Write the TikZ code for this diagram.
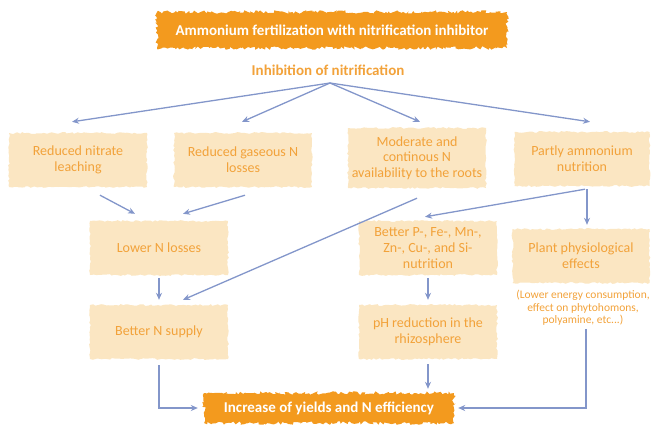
\documentclass[tikz,border=0pt]{standalone}
\usepackage{fontspec}
\setmainfont{Carlito}
\usetikzlibrary{decorations.pathmorphing,arrows.meta}

\definecolor{boxfill}{HTML}{FBE6C2}
\definecolor{txtorange}{HTML}{F2A23A}
\definecolor{bannerorange}{HTML}{F39A1E}
\definecolor{arrowblue}{HTML}{8396CA}

\tikzset{
  fuzzybox/.style={fill=boxfill, text=txtorange, align=center, inner sep=0pt,
    minimum width=138, minimum height=54, font=\fontsize{14}{16}\selectfont,
    decorate, decoration={random steps, segment length=2.5pt, amplitude=0.9pt}},
  banner/.style={fill=bannerorange, text=white, inner sep=0pt,
    font=\bfseries\fontsize{15}{17}\selectfont,
    decorate, decoration={random steps, segment length=2pt, amplitude=1.8pt}},
  link/.style={->, >={Stealth[length=7pt,width=6pt]}, color=arrowblue, line width=1.3pt}
}

\begin{document}
\begin{tikzpicture}[x=1pt, y=-1pt]
    \useasboundingbox (0,0) rectangle (651,424);

    % titles
    \node[banner, minimum width=350, minimum height=36] (top) at (332,30)
      {Ammonium fertilization with nitrification inhibitor};
    \node[text=txtorange, font=\bfseries\fontsize{15}{17}\selectfont] (inhib) at (328,70)
      {Inhibition of nitrification};
    \coordinate (fan) at (330,83);

    % first row
    \node[fuzzybox] (leach) at (78,160) {Reduced nitrate\\leaching};
    \node[fuzzybox] (gas) at (243,160) {Reduced gaseous N\\losses};
    \node[fuzzybox, minimum height=60, font=\fontsize{14}{15.5}\selectfont] (avail) at (417,158)
      {Moderate and\\continous N\\availability to the roots};
    \node[fuzzybox, minimum width=135] (partly) at (582,159) {Partly ammonium\\nutrition};

    % second row
    \node[fuzzybox] (lower) at (159,248) {Lower N losses};
    \node[fuzzybox] (micro) at (428,248) {Better P-, Fe-, Mn-,\\Zn-, Cu-, and Si-\\nutrition};
    \node[fuzzybox, minimum width=137] (physio) at (581,256) {Plant physiological\\effects};
    \node[text=txtorange, align=center, inner sep=1pt,
      font=\fontsize{11.5}{12.5}\selectfont] (effects) at (583,308)
      {(Lower energy consumption,\\effect on phytohomons,\\polyamine, etc...)};

    % third row
    \node[fuzzybox] (supply) at (159,332) {Better N supply};
    \node[fuzzybox] (ph) at (428,332) {pH reduction in the\\rhizosphere};

    \node[banner, minimum width=250, minimum height=30] (yield) at (329,408)
      {Increase of yields and N efficiency};

    % fan out of the inhibition
    \draw[link] (fan) -- ([xshift=-6,yshift=11]leach.north);
    \draw[link] (fan) -- ([xshift=-1,yshift=11]gas.north);
    \draw[link] (fan) -- ([xshift=3,yshift=6]avail.north);
    \draw[link] (fan) -- ([xshift=8,yshift=10]partly.north);

    % towards the second row
    \draw[link] ([xshift=22,yshift=-8]leach.south) -- ([xshift=-24,yshift=7]lower.north);
    \draw[link] ([xshift=2,yshift=-8]gas.south) -- ([xshift=24,yshift=7]lower.north);
    \draw[link] ([yshift=-10]avail.south) -- ([xshift=24,yshift=5]supply.north);
    \draw[link] ([xshift=3,yshift=-3]partly.south) -- ([xshift=-3,yshift=4]micro.north);
    \draw[link] ([xshift=5,yshift=-3]partly.south) -- ([xshift=6,yshift=4]physio.north);

    % downwards
    \draw[link, shorten <=3pt, shorten >=5pt] (lower.south) -- (supply.north);
    \draw[link, shorten <=3pt, shorten >=5pt] (micro.south) -- (ph.north);
    \draw[link, shorten >=6pt] ([yshift=-6]supply.south) |- (yield.west);
    \draw[link, shorten <=5pt, shorten >=4pt] (ph.south) -- (ph.south |- yield.north);
    \draw[link, shorten >=4pt] ([xshift=3,yshift=-2]effects.south) |- (yield.east);

  \end{tikzpicture}
\end{document}
